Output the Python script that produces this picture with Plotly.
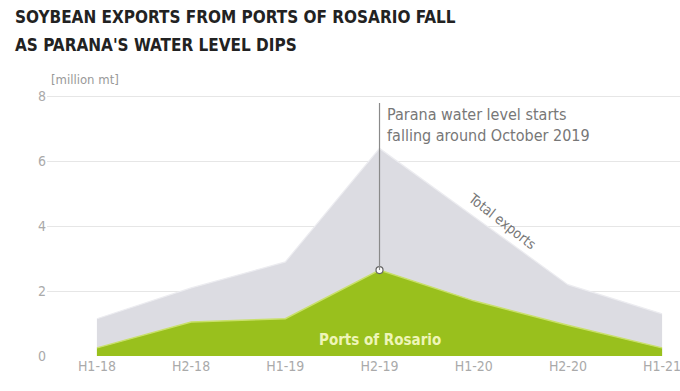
import plotly.graph_objects as go

periods = ["H1-18", "H2-18", "H1-19", "H2-19", "H1-20", "H2-20", "H1-21"]
total_exports = [1.15, 2.1, 2.9, 6.4, 4.3, 2.2, 1.3]
ports_of_rosario = [0.25, 1.05, 1.15, 2.65, 1.7, 0.95, 0.25]
y_ticks = [0, 2, 4, 6, 8]
title_lines = ["SOYBEAN EXPORTS FROM PORTS OF ROSARIO FALL", "AS PARANA'S WATER LEVEL DIPS"]

FONT = "Liberation Sans Narrow, DejaVu Sans Condensed, Roboto, sans-serif"
xi = list(range(len(periods)))

def f(size, color):
    return dict(family=FONT, size=size, color=color)

fig = go.Figure()
fig.add_trace(go.Scatter(
    x=xi, y=total_exports, mode="lines", fill="tozeroy",
    line=dict(color="#ececf0", width=1.2), fillcolor="#dcdce2",
    hoverinfo="skip", showlegend=False))
fig.add_trace(go.Scatter(
    x=xi, y=ports_of_rosario, mode="lines", fill="tozeroy",
    line=dict(color="#c9e06a", width=1.5), fillcolor="#99c01d",
    hoverinfo="skip", showlegend=False))

peak_i = periods.index("H2-19")
fig.add_shape(type="line", xref="x", yref="y",
              x0=peak_i, x1=peak_i, y0=ports_of_rosario[peak_i], y1=7.8,
              line=dict(color="#8a8a8a", width=1.2))
fig.add_trace(go.Scatter(
    x=[peak_i], y=[ports_of_rosario[peak_i]], mode="markers",
    marker=dict(size=7, color="white", line=dict(color="#666", width=1.2)),
    hoverinfo="skip", showlegend=False))

fig.add_annotation(x=peak_i, y=7.8, xref="x", yref="y", xanchor="left", yanchor="top",
                   xshift=5, showarrow=False, align="left",
                   text="Parana water level starts<br>falling around October 2019",
                   font=f(16, "#777"))
fig.add_annotation(x=4.3, y=4.15, xref="x", yref="y", showarrow=False,
                   text="Total exports", textangle=38, font=f(14, "#777"))
fig.add_annotation(x=peak_i, y=0.5, xref="x", yref="y", showarrow=False,
                   text="<b>Ports of Rosario</b>", font=f(15, "#eef5b8"))
fig.add_annotation(x=0.0, y=(356 - 79) / 266, xref="paper", yref="paper",
                   xanchor="left", yanchor="middle", xshift=2, showarrow=False,
                   text="[million mt]", font=f(13, "#999"))
for line, py in zip(title_lines, [17, 45]):
    fig.add_annotation(x=-34 / 633, y=(356 - py) / 266, xref="paper", yref="paper",
                       xanchor="left", yanchor="middle", showarrow=False, align="left",
                       text="<b>" + line + "</b>", font=f(17, "#222"))

fig.update_layout(
    width=680, height=391,
    margin=dict(l=47, r=0, t=90, b=35),
    paper_bgcolor="white", plot_bgcolor="white",
    xaxis=dict(range=[-0.53, 6.19], tickmode="array", tickvals=xi, ticktext=periods,
               showgrid=False, zeroline=False, showline=False, ticks="",
               ticklabeloverflow="allow",
               tickfont=f(14, "#aaa")),
    yaxis=dict(range=[0, 8.2], tickmode="array", tickvals=y_ticks,
               ticktext=[str(v) for v in y_ticks],
               showgrid=True, gridcolor="#e6e6e6", gridwidth=1,
               zeroline=False, showline=False, ticks="",
               tickfont=f(14, "#aaa")),
)

fig.write_html("out.html")
